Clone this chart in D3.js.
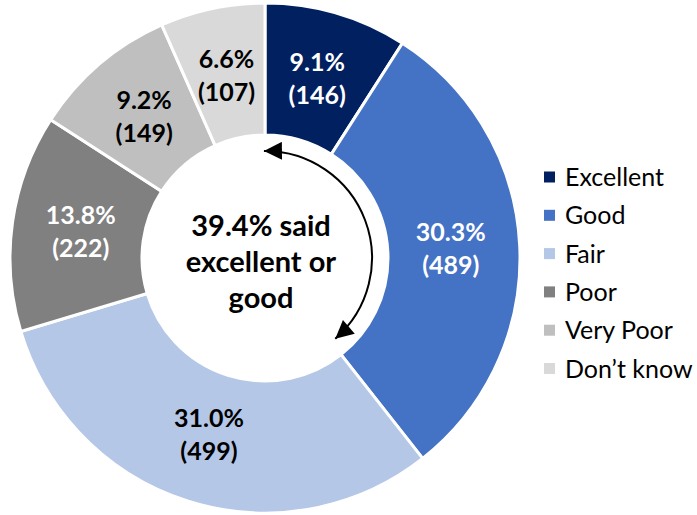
<!DOCTYPE html>
<html>
<head>
<meta charset="utf-8">
<script src="https://cdn.jsdelivr.net/npm/d3@7"></script>
<style>
  body { margin: 0; background: #fff; }
  svg { display: block; font-family: Lato, "Open Sans", sans-serif; }
</style>
</head>
<body>
<svg id="chart" width="697" height="515"></svg>
<script>
// survey answers, clockwise from the top
var categories = ["Excellent", "Good", "Fair", "Poor", "Very Poor", "Don\u2019t know"];
var counts = [146, 489, 499, 222, 149, 107];
var percents = ["9.1%", "30.3%", "31.0%", "13.8%", "9.2%", "6.6%"];
var colors = ["#002060", "#4472C4", "#B4C7E7", "#808080", "#BFBFBF", "#D9D9D9"];
var labelColors = ["#fff", "#fff", "#000", "#fff", "#000", "#000"];
var centerLines = ["39.4% said", "excellent or", "good"];

var cx = 265, cy = 258;
var rOuter = 255, rInner = 123;

var svg = d3.select("#chart");

var rows = categories.map(function(c, i) {
	return { name: c, count: counts[i], pct: percents[i], color: colors[i], text: labelColors[i] };
});

var pie = d3.pie().sort(null).value(function(d) { return d.count; });
var arc = d3.arc().innerRadius(rInner).outerRadius(rOuter);
var labelArc = d3.arc().innerRadius(186).outerRadius(186);

var g = svg.append("g").attr("transform", "translate(" + cx + "," + cy + ")");

g.selectAll("path.slice")
	.data(pie(rows))
	.enter()
	.append("path")
	.attr("class", "slice")
	.attr("d", arc)
	.attr("fill", function(d) { return d.data.color; })
	.attr("stroke", "#fff")
	.attr("stroke-width", 3);

var labels = g.selectAll("text.lbl")
	.data(pie(rows))
	.enter()
	.append("text")
	.attr("class", "lbl")
	.attr("text-anchor", "middle")
	.attr("font-weight", "bold")
	.attr("font-size", 25)
	.attr("fill", function(d) { return d.data.text; });

labels.append("tspan")
	.attr("x", function(d) { return labelArc.centroid(d)[0]; })
	.attr("y", function(d) { return labelArc.centroid(d)[1] - 8; })
	.text(function(d) { return d.data.pct; });

labels.append("tspan")
	.attr("x", function(d) { return labelArc.centroid(d)[0]; })
	.attr("y", function(d) { return labelArc.centroid(d)[1] + 25; })
	.text(function(d) { return "(" + d.data.count + ")"; });

// center text
g.append("text")
	.attr("text-anchor", "middle")
	.attr("font-weight", "bold")
	.attr("font-size", 29)
	.attr("fill", "#000")
	.selectAll("tspan")
	.data(centerLines)
	.enter()
	.append("tspan")
	.attr("x", -4)
	.attr("y", function(d, i) { return -22 + i * 36; })
	.text(function(d) { return d; });

// double headed arrow around the excellent + good share
var defs = svg.append("defs");
defs.append("marker")
	.attr("id", "head")
	.attr("viewBox", "0 0 10 10")
	.attr("refX", 10)
	.attr("refY", 5)
	.attr("markerUnits", "userSpaceOnUse")
	.attr("markerWidth", 22)
	.attr("markerHeight", 18)
	.attr("orient", "auto-start-reverse")
	.append("path")
	.attr("d", "M0,0 L10,5 L0,10 Z")
	.attr("fill", "#000");

var share = (counts[0] + counts[1]) / d3.sum(counts);
var p = d3.path();
var a0 = -Math.PI / 2 - 0.01;
var a1 = -Math.PI / 2 + share * 2 * Math.PI - 0.05;
p.arc(0, 0, 107, a0, a1);
g.append("path")
	.attr("d", p.toString())
	.attr("fill", "none")
	.attr("stroke", "#000")
	.attr("stroke-width", 2)
	.attr("marker-start", "url(#head)")
	.attr("marker-end", "url(#head)");

// legend
var legend = svg.append("g").attr("transform", "translate(544,177)");
var item = legend.selectAll("g")
	.data(rows)
	.enter()
	.append("g")
	.attr("transform", function(d, i) { return "translate(0," + (i * 38.3) + ")"; });

item.append("rect")
	.attr("x", 0)
	.attr("y", -5.5)
	.attr("width", 11)
	.attr("height", 11)
	.attr("fill", function(d) { return d.color; });

item.append("text")
	.attr("x", 21)
	.attr("y", 9)
	.attr("font-size", 25)
	.attr("fill", "#000")
	.text(function(d) { return d.name; });
</script>
</body>
</html>
